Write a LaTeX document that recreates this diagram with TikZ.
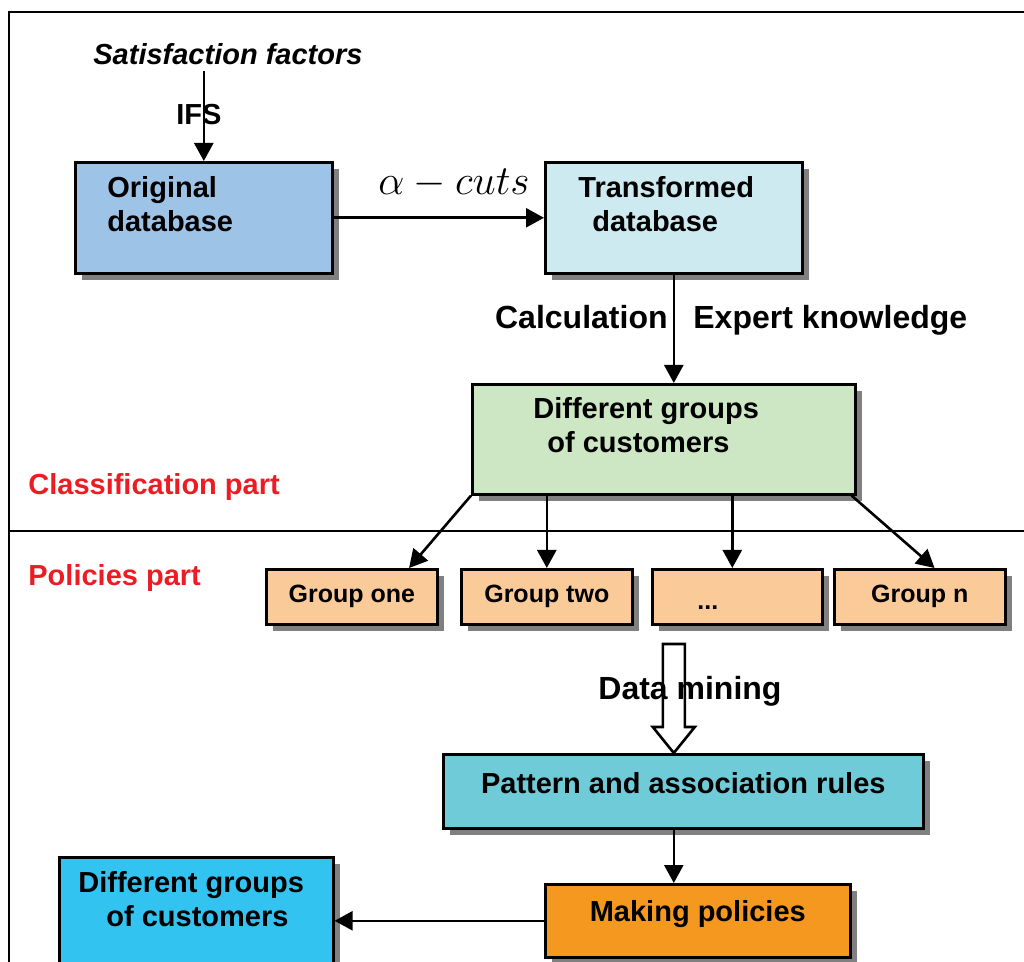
\documentclass[tikz,border=0pt]{standalone}
\usepackage{fontspec}
\setmainfont{Liberation Sans}
\usetikzlibrary{arrows.meta,shadows,calc}

\definecolor{origblue}{RGB}{157,195,230}
\definecolor{transcyan}{RGB}{205,234,240}
\definecolor{groupgreen}{RGB}{205,230,196}
\definecolor{grouppeach}{RGB}{250,203,153}
\definecolor{ruleteal}{RGB}{112,203,216}
\definecolor{policyorange}{RGB}{244,152,32}
\definecolor{custblue}{RGB}{51,195,240}
\definecolor{partred}{RGB}{237,28,36}
\definecolor{shadowgray}{RGB}{128,128,128}

\begin{document}
\begin{tikzpicture}[x=0.5pt, y=-0.5pt,
    box/.style={draw, line width=1.3pt, anchor=north west, inner sep=0pt,
        drop shadow={shadow xshift=3.5pt, shadow yshift=-3.5pt, fill=shadowgray, opacity=1}},
    txt/.style={font=\fontsize{14.5}{17}\selectfont\bfseries, inner sep=0pt, anchor=base west},
    bigtxt/.style={font=\fontsize{16}{19}\selectfont\bfseries, inner sep=0pt, anchor=base west},
    grouptxt/.style={font=\fontsize{12.5}{15}\selectfont\bfseries},
    flow/.style={line width=1.3pt, -{Triangle[width=9.5pt, length=9pt]}}]
    \useasboundingbox (0,0) rectangle (1024,962);
    \clip (0,0) rectangle (1024,962);

    % frame and the two parts
    \draw[line width=1.3pt] (9,12) rectangle (1040,990);
    \draw[line width=1.3pt] (9,531) -- (1040,531);
    \node[txt, text=partred] (classpart) at (28,495) {Classification part};
    \node[txt, text=partred] (policypart) at (28,586) {Policies part};

    % classification part
    \node[txt, font=\fontsize{14.5}{17}\selectfont\bfseries\itshape] (sat) at (93,65) {Satisfaction factors};
    \node[box, fill=origblue, minimum width=128.5pt, minimum height=55.5pt] (orig) at (74,161) {};
    \node[txt, align=left] (origtxt) at (107,232) {Original\\database};
    \node[txt] (ifs) at (176,125) {IFS};
    \draw[flow] (orig.north |- 0,71) -- (orig.north);

    \node[box, fill=transcyan, minimum width=128.5pt, minimum height=55.5pt] (trans) at (544,161) {};
    \node[txt, align=left] (transtxt) at (578,232) {Transformed\\\hspace*{7pt}database};
    \draw[flow] (orig) -- (trans);
    \node[inner sep=0pt, anchor=base west] (acut) at (378,195) {\huge $\alpha - cuts$};

    \node[box, fill=groupgreen, minimum width=191.5pt, minimum height=55pt] (grp) at (471,383) {};
    \node[txt, align=left] (grptxt) at (533,453) {Different groups\\\hspace*{7pt}of customers};
    \draw[flow] (trans.south) -- (trans.south |- grp.north);
    \node[bigtxt, anchor=base east] (calc) at (668,329) {Calculation};
    \node[bigtxt] (expert) at (693,329) {Expert knowledge};

    % policies part
    \node[box, fill=grouppeach, minimum width=85.5pt, minimum height=27.5pt, grouptxt] (g1) at (265,568) {Group one};
    \node[box, fill=grouppeach, minimum width=85.5pt, minimum height=27.5pt, grouptxt] (g2) at (460,568) {Group two};
    \node[box, fill=grouppeach, minimum width=85pt, minimum height=27.5pt] (gdots) at (651,568) {};
    \node[grouptxt, inner sep=0pt, anchor=base west] (dotstxt) at (697,610) {...};
    \node[box, fill=grouppeach, minimum width=85.5pt, minimum height=27.5pt, grouptxt] (gn) at (833,568) {Group n};
    \draw[flow] (grp.south west) -- ($(g1.north west)!0.83!(g1.north east)$);
    \draw[flow] (g2.north |- grp.south) -- (g2.north);
    \draw[flow] ([xshift=-2.5pt]gdots.north |- grp.south) -- ([xshift=-2.5pt]gdots.north);
    \draw[flow] ([xshift=-2.5pt]grp.south east) -- ($(gn.north)!0.17!(gn.north east)$);

    \node[box, fill=ruleteal, minimum width=240pt, minimum height=37pt, txt, anchor=north west, text depth=8pt] (pat) at (442,753) {Pattern and association rules};
    % hollow data mining arrow
    \coordinate (minetip) at (pat.north -| trans.south);
    \draw[line width=1.3pt, fill=white] (minetip) -- ++(21,-26) -- ++(-10,0) -- ++(0,-83)
        -- ++(-22,0) -- ++(0,83) -- ++(-10,0) -- cycle;
    \node[bigtxt] (minetxt) at (598,700) {Data mining};

    \node[box, fill=policyorange, minimum width=152.5pt, minimum height=36.5pt, txt, anchor=north west, text depth=10pt] (mk) at (544,883) {Making policies};
    \draw[flow] (pat.south -| trans.south) -- (mk.north -| trans.south);

    \node[box, fill=custblue, minimum width=137pt, minimum height=65pt] (cust) at (58,856) {};
    \node[txt, align=left] (custtxt) at (78,926) {Different groups\\\hspace*{14pt}of customers};
    \draw[flow] (mk.west) -- (mk.west -| cust.east);
\end{tikzpicture}
\end{document}
